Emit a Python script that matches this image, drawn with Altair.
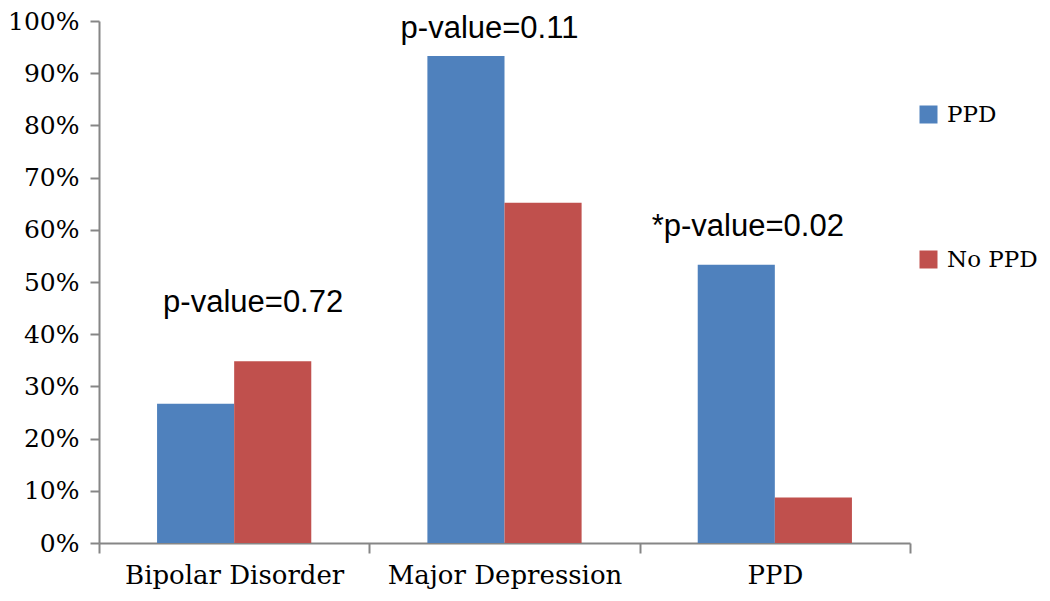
import altair as alt
import pandas as pd

categories = ["Bipolar Disorder", "Major Depression", "PPD"]
groups = ["PPD", "No PPD"]
ppd_values = [0.267, 0.933, 0.533]
no_ppd_values = [0.348, 0.652, 0.087]
colors = ["#4F81BD", "#C0504D"]
y_ticks = [0.0, 0.1, 0.2, 0.3, 0.4, 0.5, 0.6, 0.7, 0.8, 0.9, 1.0]

ann_text = ["p-value=0.72", "p-value=0.11", "*p-value=0.02"]
ann_y = [0.46, 0.985, 0.605]
ann_dx = [19, -15, -27]

rows = []
for c, a, b in zip(categories, ppd_values, no_ppd_values):
    rows.append({"category": c, "group": groups[0], "value": a})
    rows.append({"category": c, "group": groups[1], "value": b})
df = pd.DataFrame(rows)

axis_color = "#868686"

x_enc = alt.X(
    "category:N",
    sort=categories,
    scale=alt.Scale(paddingInner=0, paddingOuter=0),
    axis=alt.Axis(
        title=None,
        labelAngle=0,
        tickBand="extent",
        domainColor=axis_color,
        domainWidth=2,
        tickColor=axis_color,
        tickWidth=2,
        tickSize=10,
        labelFont="DejaVu Serif",
        labelFontSize=26,
        labelColor="black",
        labelPadding=9,
        labelLimit=0,
    ),
)

y_scale = alt.Scale(domain=[0, 1], nice=False)
y_axis = alt.Axis(
    title=None,
    values=y_ticks,
    format=".0%",
    grid=False,
    domainColor=axis_color,
    domainWidth=2,
    tickColor=axis_color,
    tickWidth=2,
    tickSize=9,
    labelFont="DejaVu Serif",
    labelFontSize=25,
    labelColor="black",
    labelPadding=11,
)

bars = alt.Chart(df).mark_bar().encode(
    x=x_enc,
    xOffset=alt.XOffset(
        "group:N", sort=groups, scale=alt.Scale(paddingOuter=0.753, paddingInner=0)
    ),
    y=alt.Y("value:Q", scale=y_scale, axis=y_axis),
    color=alt.Color(
        "group:N",
        sort=groups,
        scale=alt.Scale(domain=groups, range=colors),
        legend=alt.Legend(
            title=None,
            orient="none",
            legendX=818,
            legendY=82,
            padding=0,
            symbolType="square",
            symbolSize=324,
            symbolStrokeWidth=0,
            labelFont="DejaVu Serif",
            labelFontSize=23,
            labelColor="black",
            labelOffset=7,
            labelLimit=0,
            rowPadding=121,
        ),
    ),
)

layers = [bars]
for c, t, yv, dx in zip(categories, ann_text, ann_y, ann_dx):
    d = pd.DataFrame({"category": [c], "label": [t], "y": [yv]})
    layers.append(
        alt.Chart(d)
        .mark_text(
            dx=dx,
            font="Liberation Sans",
            fontSize=31,
            baseline="middle",
            align="center",
            color="black",
        )
        .encode(
            x=x_enc,
            y=alt.Y("y:Q", scale=y_scale, axis=y_axis),
            text="label:N",
        )
    )

chart = (
    alt.layer(*layers)
    .properties(
        width=811,
        height=522,
        autosize=alt.AutoSizeParams(type="none"),
        padding={"left": 91, "top": 13, "right": 132, "bottom": 50},
    )
    .configure(background="white")
    .configure_view(stroke=None)
)

chart.save("out.html", embed_options={"renderer": "svg", "actions": False})
